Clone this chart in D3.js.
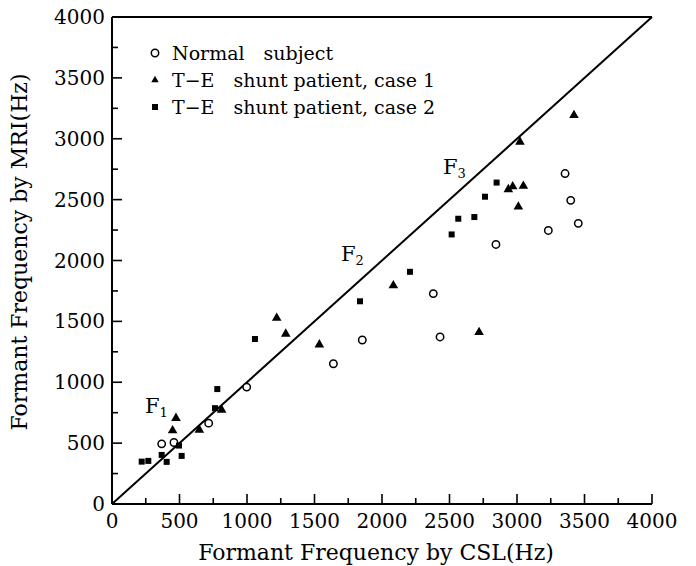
<!DOCTYPE html>
<html><head><meta charset="utf-8">
<script src="https://cdn.jsdelivr.net/npm/d3@7"></script>
<style>body{margin:0;background:#fff}svg{display:block}</style>
</head><body>
<svg id="c" width="696" height="566"></svg>
<script>
const ticksMajor = [0,500,1000,1500,2000,2500,3000,3500,4000];
const ticksMinor = [250,750,1250,1750,2250,2750,3250,3750];
const normalX = [368,459,716,998,1640,1854,2380,2430,2844,3232,3356,3398,3454];
const normalY = [494,505,664,960,1152,1347,1728,1372,2132,2247,2714,2494,2305];
const case1X = [449,474,647,812,1220,1287,1536,2084,2719,2936,2968,3047,3010,3022,3422];
const case1Y = [603,705,609,773,1528,1397,1309,1794,1410,2584,2607,2612,2442,2974,3193];
const case2X = [220,269,368,405,496,516,763,780,1059,1837,2207,2516,2565,2684,2763,2849];
const case2Y = [348,354,403,346,480,395,787,944,1355,1665,1907,2214,2343,2357,2524,2640];
const legendLabels = ["Normal\u2003subject","T\u2212E\u2003shunt patient, case 1","T\u2212E\u2003shunt patient, case 2"];
const formantLabels = [{t:"F",s:"1",x:244,y:749},{t:"F",s:"2",x:1696,y:1992},{t:"F",s:"3",x:2452,y:2708}];

const font = "'DejaVu Serif',serif";
const svg = d3.select("#c");
const x = d3.scaleLinear().domain([0,4000]).range([112,652]);
const y = d3.scaleLinear().domain([0,4000]).range([504,17]);

const g = svg.append("g").attr("font-family",font).attr("fill","#000");

// frame lines: left, bottom, top
g.append("line").attr("x1",x(0)).attr("x2",x(0)).attr("y1",y(0)).attr("y2",y(4000)).attr("stroke","#000").attr("stroke-width",2);
g.append("line").attr("x1",x(0)).attr("x2",x(4000)).attr("y1",y(0)).attr("y2",y(0)).attr("stroke","#000").attr("stroke-width",1.8);
g.append("line").attr("x1",x(0)).attr("x2",x(4000)).attr("y1",y(4000)).attr("y2",y(4000)).attr("stroke","#000").attr("stroke-width",1.8);

// diagonal
g.append("line").attr("x1",x(0)).attr("y1",y(0)).attr("x2",x(4000)).attr("y2",y(4000)).attr("stroke","#000").attr("stroke-width",2);

// x ticks
g.selectAll(".xt").data(ticksMajor).join("line").attr("x1",d=>x(d)).attr("x2",d=>x(d)).attr("y1",y(0)).attr("y2",y(0)-10).attr("stroke","#000").attr("stroke-width",1.6);
g.selectAll(".xm").data(ticksMinor).join("line").attr("x1",d=>x(d)).attr("x2",d=>x(d)).attr("y1",y(0)).attr("y2",y(0)-6).attr("stroke","#000").attr("stroke-width",1.6);
// y ticks
g.selectAll(".yt").data(ticksMajor).join("line").attr("y1",d=>y(d)).attr("y2",d=>y(d)).attr("x1",x(0)).attr("x2",x(0)+10).attr("stroke","#000").attr("stroke-width",1.6);
g.selectAll(".ym").data(ticksMinor).join("line").attr("y1",d=>y(d)).attr("y2",d=>y(d)).attr("x1",x(0)).attr("x2",x(0)+6).attr("stroke","#000").attr("stroke-width",1.6);

// tick labels
g.selectAll(".xl").data(ticksMajor).join("text").attr("x",d=>x(d)).attr("y",y(0)+24).attr("text-anchor","middle").attr("font-size",20).text(d=>d);
g.selectAll(".yl").data(ticksMajor).join("text").attr("x",x(0)-7).attr("y",d=>y(d)+7).attr("text-anchor","end").attr("font-size",20).text(d=>d);

// axis titles
g.append("text").attr("x",(x(0)+x(4000))/2 - 6).attr("y",560).attr("text-anchor","middle").attr("font-size",22).text("Formant Frequency by CSL(Hz)");
g.append("text").attr("transform",`translate(27,252) rotate(-90)`).attr("text-anchor","middle").attr("font-size",22).text("Formant Frequency by MRI(Hz)");

// markers
g.selectAll(".n").data(d3.zip(normalX, normalY)).join("circle").attr("cx",d=>x(d[0])).attr("cy",d=>y(d[1])).attr("r",3.7).attr("fill","#fff").attr("stroke","#000").attr("stroke-width",1.5);
const tri = d3.symbol().type(d3.symbolTriangle).size(40);
g.selectAll(".t").data(d3.zip(case1X, case1Y)).join("path").attr("d",tri).attr("transform",d=>`translate(${x(d[0])},${y(d[1])})`).attr("fill","#000");
g.selectAll(".s").data(d3.zip(case2X, case2Y)).join("rect").attr("x",d=>x(d[0])-3).attr("y",d=>y(d[1])-3).attr("width",6).attr("height",6).attr("fill","#000");

// legend
const lx = 155, ly = [53,80,107];
g.append("circle").attr("cx",lx).attr("cy",ly[0]).attr("r",3.7).attr("fill","#fff").attr("stroke","#000").attr("stroke-width",1.5);
g.append("path").attr("d",d3.symbol().type(d3.symbolTriangle).size(24)).attr("transform",`translate(${lx},${ly[1]})`);
g.append("rect").attr("x",lx-3).attr("y",ly[2]-3).attr("width",6).attr("height",6);
g.selectAll(".lg").data(legendLabels).join("text").attr("x",lx+17).attr("y",(d,i)=>ly[i]+7).attr("font-size",19).text(d=>d);

// formant labels
formantLabels.forEach(f=>{
  const t = g.append("text").attr("x",x(f.x)).attr("y",y(f.y)).attr("font-size",21);
  t.append("tspan").text(f.t);
  t.append("tspan").attr("font-size",13).attr("dy",4).text(f.s);
});
</script>
</body></html>
